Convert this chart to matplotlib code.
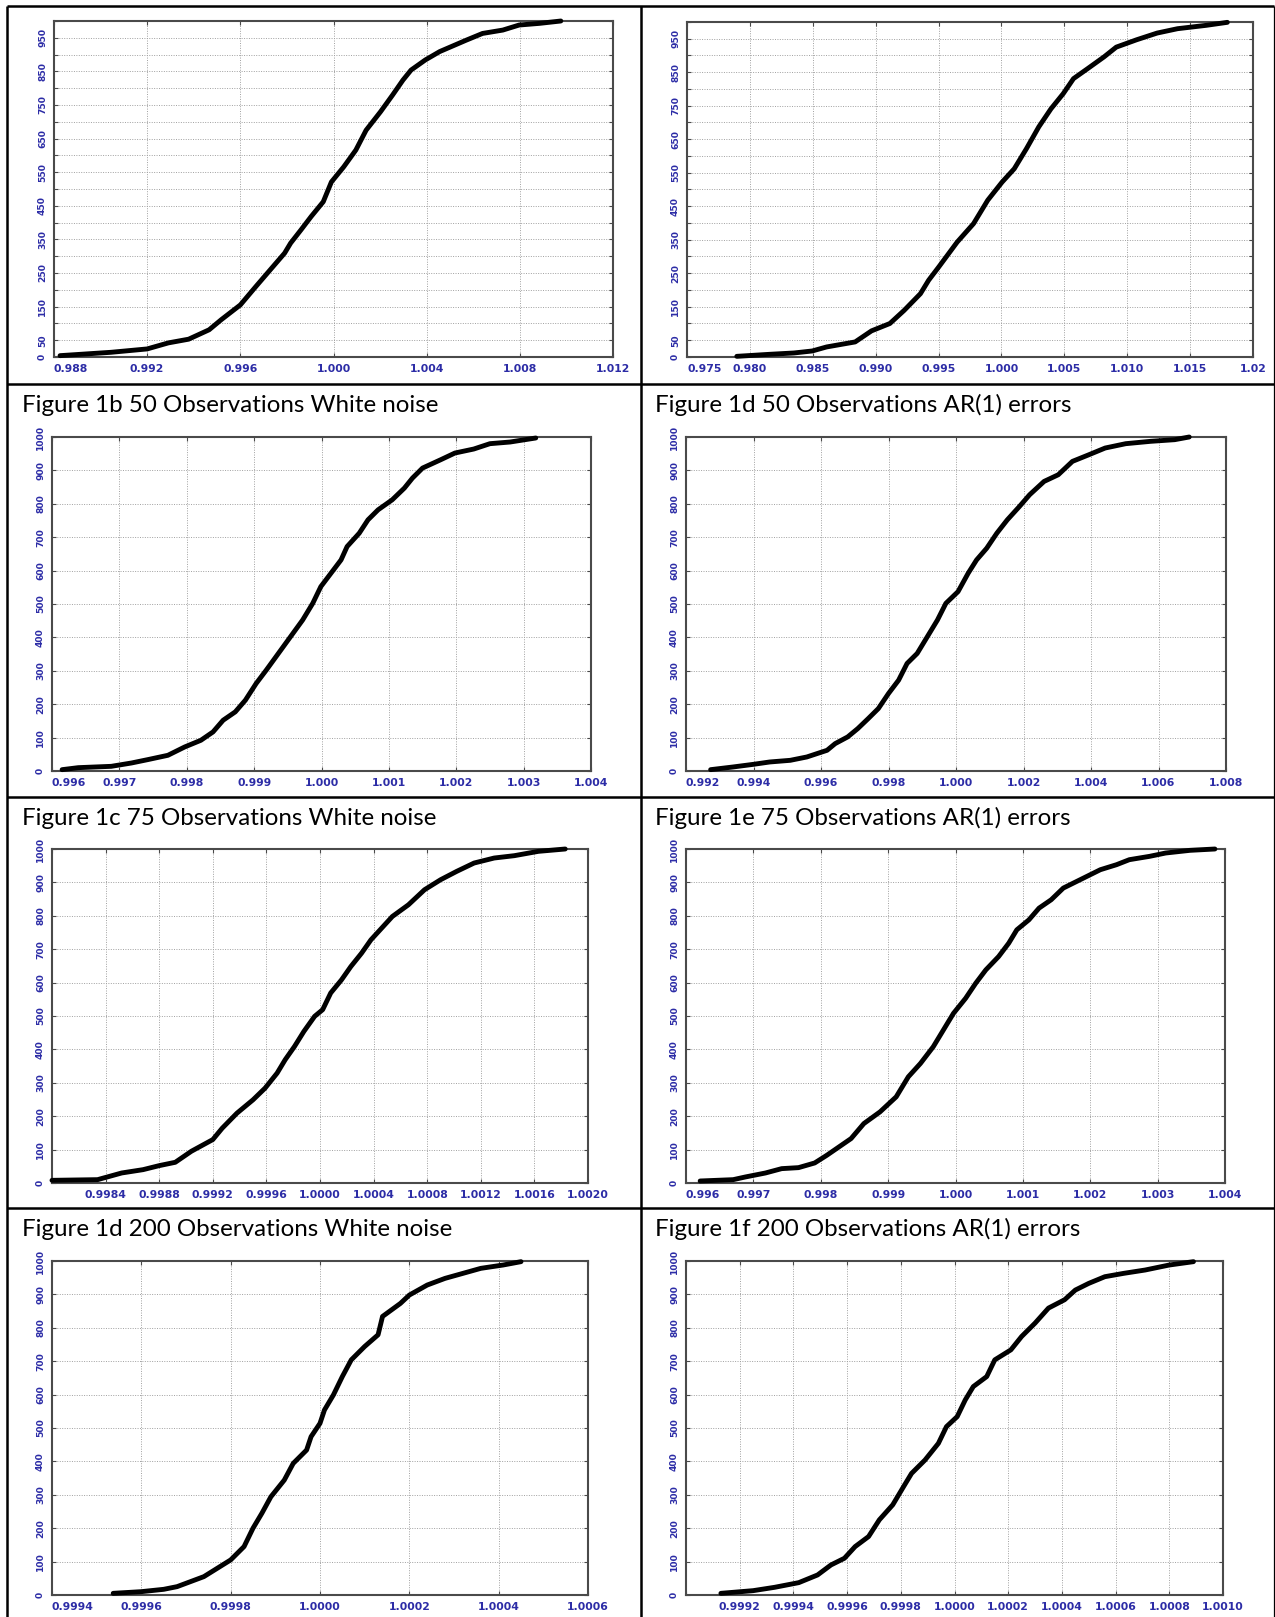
import matplotlib
matplotlib.use("Agg")
import matplotlib.pyplot as plt
from matplotlib.lines import Line2D
from matplotlib import font_manager

# ---------------- data ----------------
captions_left = ["Figure 1b 50 Observations White noise",
                 "Figure 1c 75 Observations White noise",
                 "Figure 1d 200 Observations White noise"]
captions_right = ["Figure 1d 50 Observations AR(1) errors",
                  "Figure 1e 75 Observations AR(1) errors",
                  "Figure 1f 200 Observations AR(1) errors"]

# row 1 left
r1l_x = [0.98826, 0.99045, 0.99200, 0.99291, 0.99378, 0.99466, 0.99518, 0.99600, 0.99667,
         0.99729, 0.99790, 0.99816, 0.99860, 0.99904, 0.99956, 0.99991, 1.00044, 1.00096,
         1.00140, 1.00202, 1.00254, 1.00298, 1.00333, 1.00394, 1.00456, 1.00570, 1.00640,
         1.00727, 1.00797, 1.00885, 1.00976]
r1l_y = [4, 14, 24, 42, 53, 81, 111, 155, 210, 260, 309, 339, 378, 418, 462, 521, 566, 616,
         675, 730, 780, 824, 854, 884, 909, 943, 963, 973, 988, 993, 1000]
r1l_ticks = [0.988, 0.992, 0.996, 1.000, 1.004, 1.008, 1.012]
r1l_labels = ["0.988", "0.992", "0.996", "1.000", "1.004", "1.008", "1.012"]

# row 1 right
r1r_x = [0.97896, 0.98155, 0.98350, 0.98496, 0.98610, 0.98837, 0.98967, 0.99113, 0.99226,
         0.99356, 0.99421, 0.99502, 0.99648, 0.99778, 0.99891, 1.00005, 1.00102, 1.00199,
         1.00297, 1.00394, 1.00491, 1.00573, 1.00686, 1.00816, 1.00913, 1.01075, 1.01238,
         1.01400, 1.01627, 1.01796]
r1r_y = [2, 8, 12, 18, 30, 45, 78, 100, 139, 189, 229, 269, 343, 398, 468, 522, 562, 622,
         687, 741, 786, 831, 861, 896, 925, 947, 967, 980, 990, 999]
r1r_ticks = [0.975, 0.980, 0.985, 0.990, 0.995, 1.000, 1.005, 1.010, 1.015, 1.020]
r1r_labels = ["0.975", "0.980", "0.985", "0.990", "0.995", "1.000", "1.005", "1.010", "1.015", "1.02"]

# row 2 left
r2l_x = [0.99615, 0.99639, 0.99688, 0.99718, 0.99742, 0.99772, 0.99797, 0.99821, 0.99839,
         0.99854, 0.99872, 0.99887, 0.99903, 0.99918, 0.99936, 0.99954, 0.99972, 0.99987,
         0.99999, 1.00014, 1.00029, 1.00038, 1.00056, 1.00069, 1.00084, 1.00105, 1.00123,
         1.00135, 1.00150, 1.00177, 1.00198, 1.00226, 1.00250, 1.00280, 1.00318]
r2l_y = [4, 10, 14, 24, 34, 47, 72, 92, 117, 152, 177, 212, 262, 302, 352, 402, 452, 502,
         552, 592, 632, 672, 712, 752, 782, 812, 847, 877, 907, 932, 952, 964, 980, 985, 997]
r2l_ticks = [0.996, 0.997, 0.998, 0.999, 1.000, 1.001, 1.002, 1.003, 1.004]
r2l_labels = ["0.996", "0.997", "0.998", "0.999", "1.000", "1.001", "1.002", "1.003", "1.004"]

# row 2 right
r2r_x = [0.99273, 0.99339, 0.99400, 0.99448, 0.99509, 0.99558, 0.99618, 0.99642, 0.99679,
         0.99709, 0.99740, 0.99770, 0.99800, 0.99830, 0.99855, 0.99885, 0.99915, 0.99945,
         0.99970, 1.00006, 1.00036, 1.00061, 1.00091, 1.00121, 1.00152, 1.00188, 1.00218,
         1.00261, 1.00303, 1.00345, 1.00394, 1.00442, 1.00503, 1.00576, 1.00648, 1.00691]
r2r_y = [4, 12, 20, 27, 32, 42, 62, 82, 102, 127, 157, 187, 232, 272, 322, 352, 402, 452,
         502, 537, 592, 632, 667, 712, 752, 792, 827, 867, 887, 927, 947, 967, 980, 987, 992, 1000]
r2r_ticks = [0.992, 0.994, 0.996, 0.998, 1.000, 1.002, 1.004, 1.006, 1.008]
r2r_labels = ["0.992", "0.994", "0.996", "0.998", "1.000", "1.002", "1.004", "1.006", "1.008"]

# row 3 left
r3l_x = [0.99800, 0.99834, 0.99843, 0.99852, 0.99868, 0.99880, 0.99892, 0.99904, 0.99920,
         0.99927, 0.99938, 0.99950, 0.99959, 0.99968, 0.99974, 0.99981, 0.99988, 0.99996,
         1.00002, 1.00008, 1.00016, 1.00023, 1.00031, 1.00038, 1.00046, 1.00054, 1.00066,
         1.00078, 1.00090, 1.00102, 1.00115, 1.00130, 1.00145, 1.00163, 1.00183]
r3l_y = [8, 10, 20, 30, 40, 52, 62, 95, 130, 164, 209, 249, 284, 329, 369, 409, 454, 499,
         519, 569, 608, 648, 688, 728, 763, 798, 833, 878, 908, 933, 958, 973, 980, 993, 1000]
r3l_ticks = [0.9980, 0.9984, 0.9988, 0.9992, 0.9996, 1.0000, 1.0004, 1.0008, 1.0012, 1.0016, 1.0020]
r3l_labels = ["", "0.9984", "0.9988", "0.9992", "0.9996", "1.0000", "1.0004", "1.0008",
              "1.0012", "1.0016", "1.0020"]

# row 3 right
r3r_x = [0.99621, 0.99670, 0.99688, 0.99718, 0.99742, 0.99767, 0.99791, 0.99809, 0.99827,
         0.99845, 0.99864, 0.99888, 0.99912, 0.99930, 0.99948, 0.99967, 0.99982, 0.99997,
         1.00015, 1.00030, 1.00045, 1.00064, 1.00079, 1.00091, 1.00109, 1.00124, 1.00142,
         1.00160, 1.00185, 1.00215, 1.00239, 1.00258, 1.00288, 1.00312, 1.00348, 1.00385]
r3r_y = [6, 10, 18, 30, 43, 46, 60, 83, 108, 133, 178, 213, 258, 318, 358, 408, 458, 508,
         553, 598, 638, 678, 718, 758, 788, 823, 848, 883, 908, 938, 953, 968, 978, 988, 996, 1000]
r3r_ticks = [0.996, 0.997, 0.998, 0.999, 1.000, 1.001, 1.002, 1.003, 1.004]
r3r_labels = ["0.996", "0.997", "0.998", "0.999", "1.000", "1.001", "1.002", "1.003", "1.004"]

# row 4 left
r4l_x = [0.999537, 0.99960, 0.99965, 0.99968, 0.99971, 0.99974, 0.99977, 0.99980, 0.99983,
         0.99985, 0.99987, 0.99989, 0.99992, 0.99994, 0.99997, 0.99998, 1.00000, 1.00001,
         1.00003, 1.00005, 1.00007, 1.00010, 1.00013, 1.00014, 1.00018, 1.00020, 1.00024,
         1.00028, 1.00032, 1.00036, 1.00041, 1.00045]
r4l_y = [5, 10, 17, 25, 40, 55, 80, 105, 145, 200, 245, 294, 344, 394, 434, 474, 514, 554,
         599, 654, 704, 744, 779, 834, 873, 898, 928, 948, 963, 978, 988, 998]
r4l_ticks = [0.9994, 0.9996, 0.9998, 1.0000, 1.0002, 1.0004, 1.0006]
r4l_labels = ["0.9994", "0.9996", "0.9998", "1.0000", "1.0002", "1.0004", "1.0006"]

# row 4 right
r4r_x = [0.99913, 0.99925, 0.99933, 0.99942, 0.99949, 0.99954, 0.99959, 0.99963, 0.99968,
         0.99972, 0.99977, 0.99981, 0.99984, 0.99989, 0.99994, 0.99997, 1.00001, 1.00004,
         1.00007, 1.00012, 1.00015, 1.00021, 1.00025, 1.00030, 1.00035, 1.00041, 1.00045,
         1.00050, 1.00056, 1.00063, 1.00071, 1.00080, 1.00089]
r4r_y = [5, 13, 23, 37, 60, 90, 110, 145, 175, 225, 270, 324, 364, 404, 454, 504, 534, 584,
         624, 654, 704, 734, 774, 814, 859, 884, 913, 933, 953, 963, 973, 988, 998]
r4r_ticks = [0.9990, 0.9992, 0.9994, 0.9996, 0.9998, 1.0000, 1.0002, 1.0004, 1.0006, 1.0008, 1.0010]
r4r_labels = ["", "0.9992", "0.9994", "0.9996", "0.9998", "1.0000", "1.0002", "1.0004",
              "1.0006", "1.0008", "1.0010"]

# y axes
y_ticks_row1 = list(range(0, 1001, 50))
y_labels_row1 = ["0", "50", "", "150", "", "250", "", "350", "", "450", "", "550", "",
                 "650", "", "750", "", "850", "", "950", ""]
y_ticks_other = list(range(0, 1001, 100))
y_labels_other = [str(v) for v in y_ticks_other]

# ---------------- layout ----------------
W, H = 1275, 1617
fig = plt.figure(figsize=(W / 100, H / 100), dpi=100)
fig.patch.set_facecolor("white")


def fx(px):
    return px / W


def fy(py):
    return 1 - py / H


def new_axes(x0, y0, x1, y1):
    return fig.add_axes([fx(x0), fy(y1), (x1 - x0) / W, (y1 - y0) / H])


TICK_BLUE = "#2c2ca6"
FRAME = "#4a4a4a"

panels = [
    ((54, 21, 613, 357), r1l_x, r1l_y, r1l_ticks, r1l_labels, y_ticks_row1, y_labels_row1),
    ((687, 22, 1253, 357), r1r_x, r1r_y, r1r_ticks, r1r_labels, y_ticks_row1, y_labels_row1),
    ((52, 437, 591, 771), r2l_x, r2l_y, r2l_ticks, r2l_labels, y_ticks_other, y_labels_other),
    ((686, 437, 1226, 771), r2r_x, r2r_y, r2r_ticks, r2r_labels, y_ticks_other, y_labels_other),
    ((52, 849, 588, 1183), r3l_x, r3l_y, r3l_ticks, r3l_labels, y_ticks_other, y_labels_other),
    ((686, 849, 1225, 1183), r3r_x, r3r_y, r3r_ticks, r3r_labels, y_ticks_other, y_labels_other),
    ((52, 1261, 588, 1595), r4l_x, r4l_y, r4l_ticks, r4l_labels, y_ticks_other, y_labels_other),
    ((686, 1261, 1223, 1595), r4r_x, r4r_y, r4r_ticks, r4r_labels, y_ticks_other, y_labels_other),
]

for box, xs, ys, xt, xl, yt, yl in panels:
    ax = new_axes(*box)
    ax.plot(xs, ys, color="black", lw=3.5, solid_joinstyle="round",
            solid_capstyle="round", clip_on=False, zorder=5)
    ax.set_xlim(xt[0], xt[-1])
    ax.set_ylim(0, 1000)
    ax.set_xticks(xt)
    ax.set_xticklabels(xl, fontweight="bold")
    ax.set_yticks(yt)
    ax.set_yticklabels(yl, fontweight="bold")
    ax.grid(True, linestyle=(0, (1, 1.5)), color="#a0a0a0", linewidth=0.7)
    ax.set_axisbelow(True)
    ax.tick_params(direction="in", length=3, width=0.8, color=FRAME,
                   top=True, right=True, pad=5)
    ax.tick_params(axis="x", labelsize=7.8, labelcolor=TICK_BLUE)
    ax.tick_params(axis="y", labelsize=6.6, labelcolor=TICK_BLUE)
    for lab in ax.get_yticklabels():
        lab.set_rotation(90)
        lab.set_va("center")
        lab.set_ha("right")
    if xl[0] != "":
        ax.get_xticklabels()[0].set_ha("left")
    for sp in ax.spines.values():
        sp.set_color(FRAME)
        sp.set_linewidth(1.5)

# ---------------- captions ----------------
avail = {f.name for f in font_manager.fontManager.ttflist}
cap_family = "Lato" if "Lato" in avail else "DejaVu Sans"

renderer = fig.canvas.get_renderer()
probe = fig.text(0, 0, captions_left[0], fontsize=20, family=cap_family)
w = probe.get_window_extent(renderer=renderer).width
probe.remove()
cap_size = 20 * 417.0 / w

cap_baselines = [412, 825, 1236]
for i, yb in enumerate(cap_baselines):
    fig.text(fx(22), fy(yb), captions_left[i], fontsize=cap_size, family=cap_family,
             va="baseline", ha="left", color="black")
    fig.text(fx(655), fy(yb), captions_right[i], fontsize=cap_size, family=cap_family,
             va="baseline", ha="left", color="black")

# ---------------- table borders ----------------
def hline(y, x0=7, x1=1274, lw=1.8):
    fig.add_artist(Line2D([fx(x0), fx(x1)], [fy(y), fy(y)], transform=fig.transFigure,
                          color="black", lw=lw, solid_capstyle="butt"))


def vline(x, y0=6, y1=1617, lw=1.8):
    fig.add_artist(Line2D([fx(x), fx(x)], [fy(y0), fy(y1)], transform=fig.transFigure,
                          color="black", lw=lw, solid_capstyle="butt"))


for yb in (6, 384, 797, 1208):
    hline(yb)
vline(7)
vline(641)
vline(1274, lw=0.9)

fig.savefig("out.png", dpi=100, facecolor="white")
